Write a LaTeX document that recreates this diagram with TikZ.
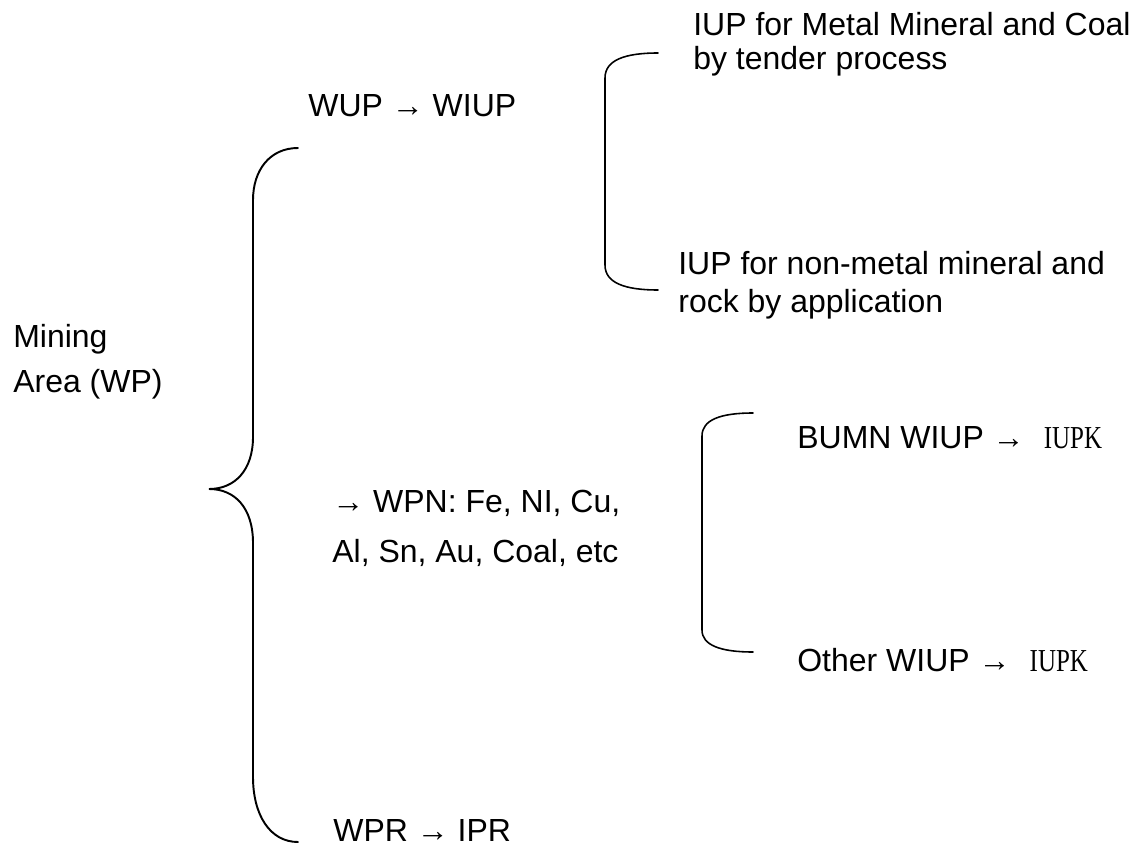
\documentclass[tikz,border=0pt]{standalone}
\usepackage{fontspec}
\setmainfont{Liberation Sans}
\newfontfamily\iupkfont[FakeStretch=0.78]{Liberation Serif}
\usepackage{tikz}
\newcommand{\txtsize}[1]{\fontsize{18.2pt}{#1}\selectfont}
\newcommand{\iupk}{\hspace{0.6em}{\iupkfont IUPK}}

\begin{document}
\begin{tikzpicture}[
    x=0.02cm, y=-0.02cm,
    lbl/.style={
        anchor=base west,
        inner sep=0pt,
        align=left,
        font=\txtsize{22pt}
    },
    bigbrace/.style={
        line width=1.1pt,
        line cap=round
    },
    smallbrace/.style={
        line width=0.9pt,
        line cap=round
    }
]
\useasboundingbox (0,0) rectangle (1146,848);

% Texts (multi-line nodes sit on their last line)
\node[lbl, font=\txtsize{25.6pt}] (mining) at (13,392) {Mining\\Area (WP)};
\node[lbl] (wup) at (308,116) {WUP → WIUP};
\node[lbl, font=\txtsize{27.9pt}] (wpn) at (332,562) {→ WPN: Fe, NI, Cu,\\Al, Sn, Au, Coal, etc};
\node[lbl] (wpr) at (333,841) {WPR → IPR};
\node[lbl, font=\txtsize{19.4pt}] (metal) at (693,70) {IUP for Metal Mineral and Coal\\by tender process};
\node[lbl, font=\txtsize{21.1pt}] (nonmetal) at (678,312) {IUP for non-metal mineral and\\rock by application};
\node[lbl] (bumn) at (797,448) {BUMN WIUP →\iupk};
\node[lbl] (other) at (797,671) {Other WIUP →\iupk};

% Brace tips
\coordinate (wptip) at (209,489);

% Main brace
\draw[bigbrace] (298,148) .. controls (270,148) and (253,170) .. (253,200)
    -- (253,437) .. controls (253,470) and (235,489) .. (wptip)
    .. controls (235,489) and (253,508) .. (253,543)
    -- (253,777) .. controls (253,815) and (270,842) .. (298,842);

% WIUP brace
\draw[smallbrace] (658,53) .. controls (625,53) and (605,60) .. (605,78)
    -- (605,265) .. controls (605,283) and (625,290) .. (658,290);

% WPN brace
\draw[smallbrace] (753,413) .. controls (720,413) and (702,420) .. (702,436)
    -- (702,630) .. controls (702,645) and (720,652) .. (753,652);

\end{tikzpicture}
\end{document}
